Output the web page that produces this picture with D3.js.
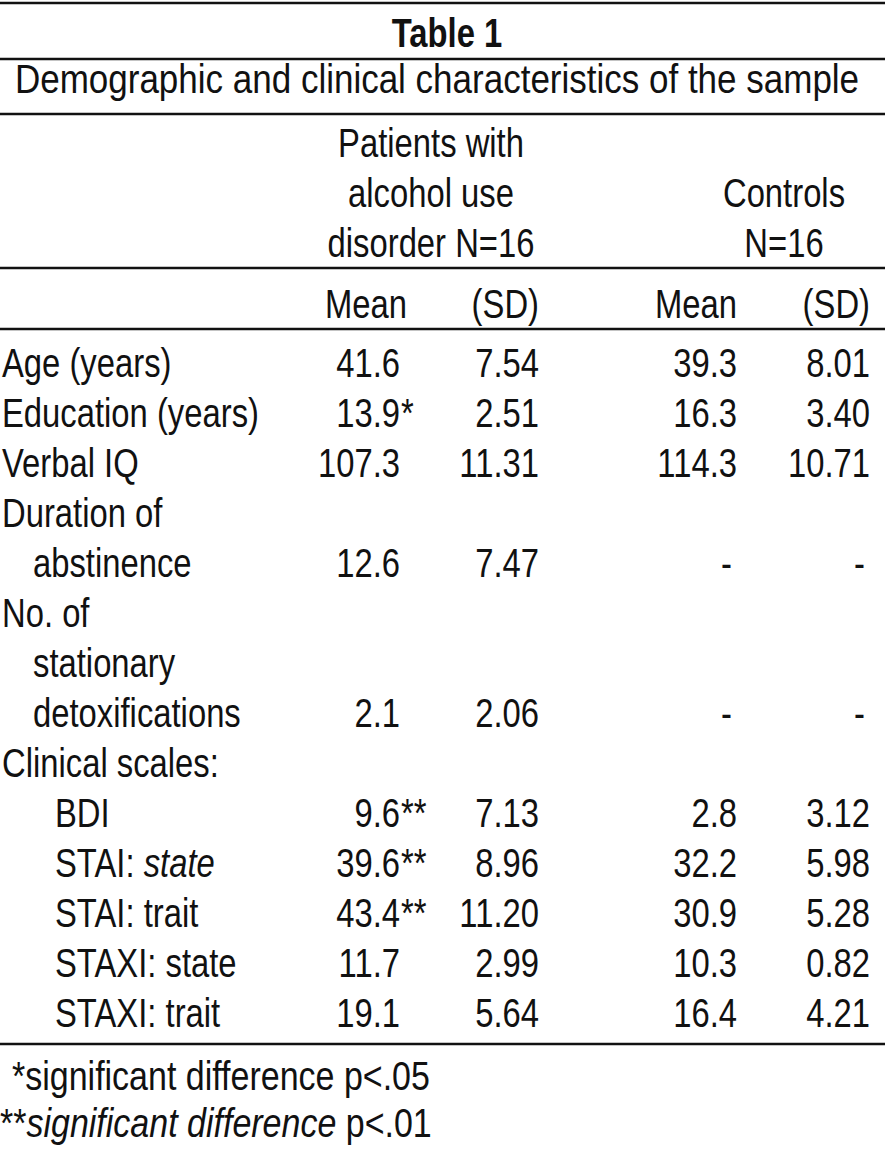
<!DOCTYPE html>
<html>
<head>
<meta charset="utf-8">
<script src="https://cdn.jsdelivr.net/npm/d3@7"></script>
<style>
  body { margin: 0; background: #fff; }
  text { font-family: "Liberation Sans Narrow", "Arial Narrow", "Liberation Sans", sans-serif; fill: #111; }
</style>
</head>
<body>
<div id="table"></div>
<script>
// table content
const rowLabels = ["Age (years)", "Education (years)", "Verbal IQ", "Duration of", "abstinence",
  "No. of", "stationary", "detoxifications", "Clinical scales:", "BDI", "STAI: ", "STAI: trait",
  "STAXI: state", "STAXI: trait"];
const rowLabelItalic = ["", "", "", "", "", "", "", "", "", "", "state", "", "", ""];
const rowIndent = [0, 0, 0, 0, 1, 0, 1, 1, 0, 2, 2, 2, 2, 2];
const patientMean = ["41.6", "13.9", "107.3", "", "12.6", "", "", "2.1", "", "9.6", "39.6", "43.4", "11.7", "19.1"];
const patientSig = ["", "*", "", "", "", "", "", "", "", "**", "**", "**", "", ""];
const patientSD = ["7.54", "2.51", "11.31", "", "7.47", "", "", "2.06", "", "7.13", "8.96", "11.20", "2.99", "5.64"];
const controlMean = ["39.3", "16.3", "114.3", "", "-", "", "", "-", "", "2.8", "32.2", "30.9", "10.3", "16.4"];
const controlSD = ["8.01", "3.40", "10.71", "", "-", "", "", "-", "", "3.12", "5.98", "5.28", "0.82", "4.21"];
const groupHeaders = [["Patients with", "alcohol use", "disorder N=16"], ["", "Controls", "N=16"]];
const statHeaders = ["Mean", "(SD)", "Mean", "(SD)"];

// the original is set in a narrow face, so squeeze the regular one
function at(x, y, squeeze = 0.82) {
  return "translate(" + x + "," + y + ") scale(" + squeeze + ",1)";
}

function getConfig() {
  let width = 885;
  let height = 1156;
  let fontSize = 40;
  let container = d3.select("#table").append("svg")
    .attr("width", width)
    .attr("height", height);
  return {width, height, fontSize, container};
}

function getScales() {
  // baseline of each body row
  let yScale = d3.scaleLinear()
    .domain([0, rowLabels.length - 1])
    .range([377, 1027]);
  // right edge of each numeric column
  let xScale = d3.scaleOrdinal()
    .domain(["pMean", "pSD", "cMean", "cSD"])
    .range([400, 539, 737, 870]);
  let indentScale = d3.scaleOrdinal().domain([0, 1, 2]).range([2, 33, 55]);
  return {yScale, xScale, indentScale};
}

function drawRules(config) {
  let {container, width} = config;
  container.selectAll("line.rule")
    .data([3, 59, 114, 268, 329, 1044])
    .enter()
    .append("line")
      .attr("class", "rule")
      .attr("x1", 0)
      .attr("x2", width)
      .attr("y1", d => d)
      .attr("y2", d => d)
      .attr("stroke", "#111")
      .attr("stroke-width", 2.5);
}

function drawHeader(config, scales) {
  let {container, fontSize} = config;
  let {xScale} = scales;

  container.append("text")
    .attr("transform", at(447, 47))
    .attr("text-anchor", "middle")
    .attr("font-size", fontSize)
    .attr("font-weight", "bold")
    .text("Table 1");

  container.append("text")
    .attr("transform", at(437, 93, 0.875))
    .attr("text-anchor", "middle")
    .attr("font-size", fontSize)
    .text("Demographic and clinical characteristics of the sample");

  // group headers, three lines each
  let groupCenters = [431, 784];
  groupHeaders.forEach((lines, i) => {
    container.selectAll("text.group" + i)
      .data(lines)
      .enter()
      .append("text")
        .attr("class", "group" + i)
        .attr("transform", (d, j) => at(groupCenters[i], 157 + j * 50))
        .attr("text-anchor", "middle")
        .attr("font-size", fontSize)
        .text(d => d);
  });

  container.selectAll("text.stat")
    .data(statHeaders)
    .enter()
    .append("text")
      .attr("class", "stat")
      .attr("transform", (d, i) => at(xScale(xScale.domain()[i]) + (i === 0 ? 7 : 0), 318))
      .attr("text-anchor", "end")
      .attr("font-size", fontSize)
      .text(d => d);
}

function drawBody(config, scales) {
  let {container, fontSize} = config;
  let {yScale, xScale, indentScale} = scales;

  let labels = container.selectAll("text.label")
    .data(rowLabels)
    .enter()
    .append("text")
      .attr("class", "label")
      .attr("transform", (d, i) => at(indentScale(rowIndent[i]), yScale(i)))
      .attr("font-size", fontSize)
      .text(d => d);
  labels.append("tspan")
    .attr("font-style", "italic")
    .text((d, i) => rowLabelItalic[i]);

  let columns = [["pMean", patientMean], ["pSD", patientSD], ["cMean", controlMean], ["cSD", controlSD]];
  columns.forEach(([key, values]) => {
    container.selectAll("text.col" + key)
      .data(values)
      .enter()
      .append("text")
        .attr("class", "col" + key)
        .attr("transform", (d, i) => at(xScale(key) - (d === "-" ? 5 : 0), yScale(i)))
        .attr("text-anchor", "end")
        .attr("font-size", fontSize)
        .text(d => d);
  });

  // significance stars hang to the right of the patient means
  container.selectAll("text.sig")
    .data(patientSig)
    .enter()
    .append("text")
      .attr("class", "sig")
      .attr("transform", (d, i) => at(xScale("pMean") + 1, yScale(i)))
      .attr("font-size", fontSize)
      .text(d => d);
}

function drawNotes(config) {
  let {container, fontSize} = config;
  container.append("text")
    .attr("transform", at(12, 1090, 0.85))
    .attr("font-size", fontSize)
    .text("*significant difference p<.05");

  let note2 = container.append("text")
    .attr("transform", at(0, 1137, 0.85))
    .attr("font-size", fontSize);
  note2.append("tspan").text("**");
  note2.append("tspan").attr("font-style", "italic").text("significant difference");
  note2.append("tspan").text(" p<.01");
}

let config = getConfig();
let scales = getScales();
drawRules(config);
drawHeader(config, scales);
drawBody(config, scales);
drawNotes(config);
</script>
</body>
</html>
